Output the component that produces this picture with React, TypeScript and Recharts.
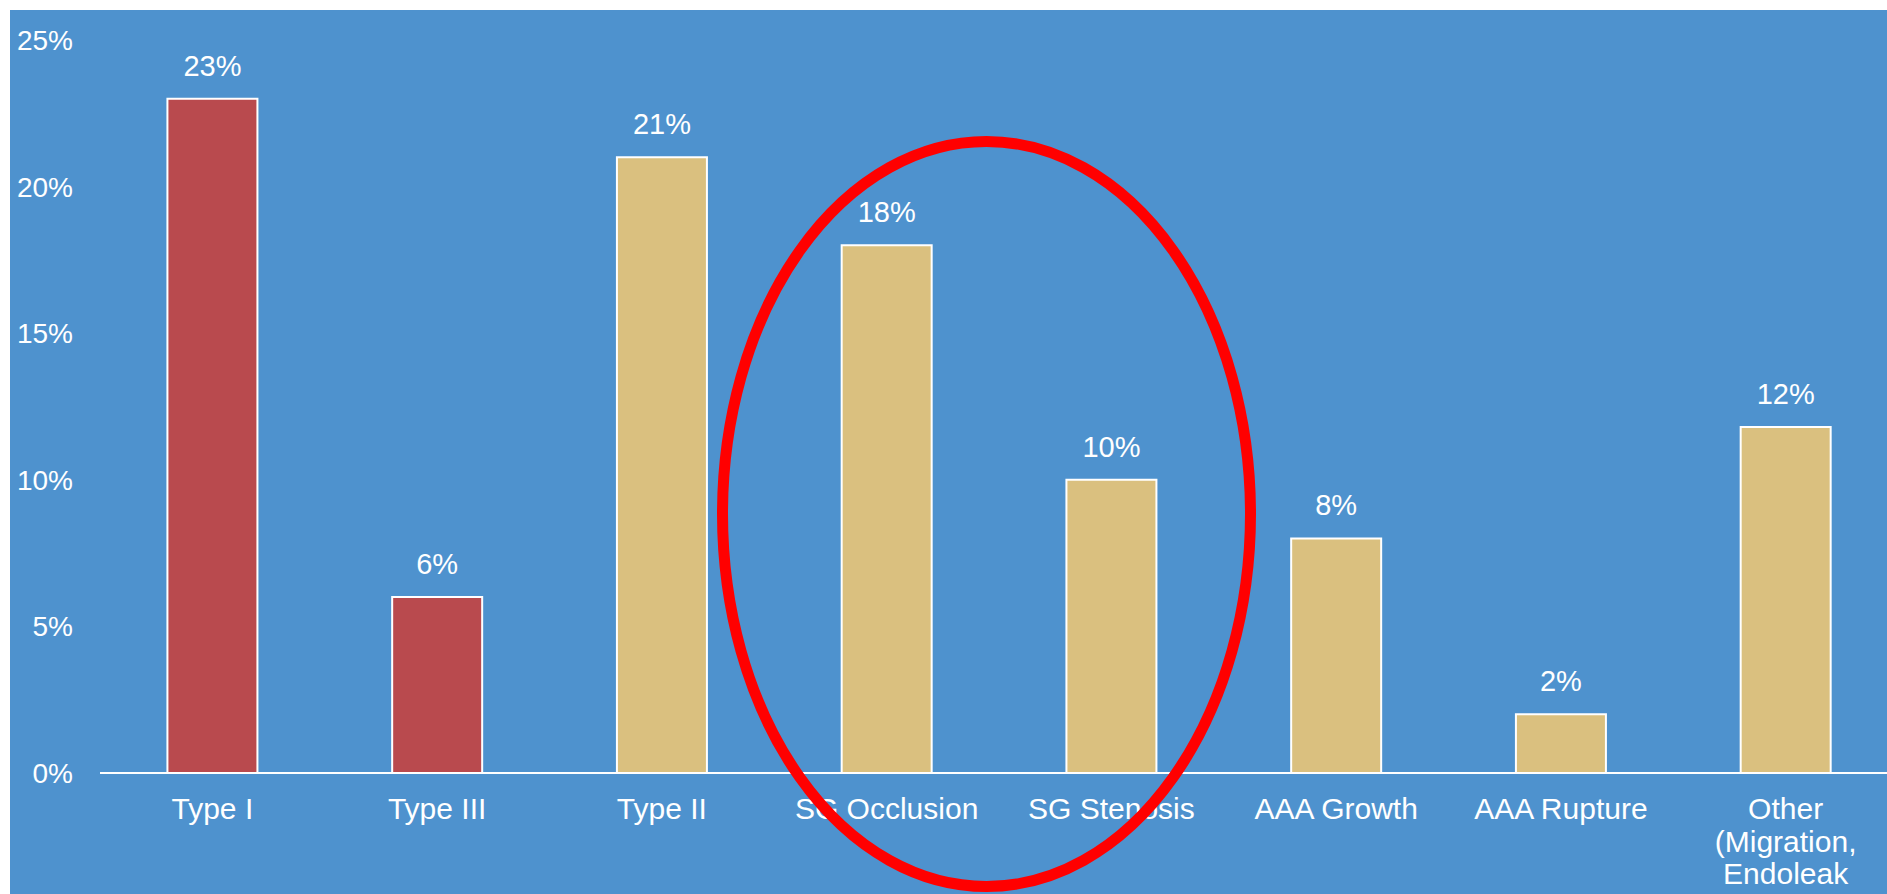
import { BarChart, Bar, XAxis, YAxis, Cell, LabelList } from 'recharts';

const categories = [
  'Type I',
  'Type III',
  'Type II',
  'SG Occlusion',
  'SG Stenosis',
  'AAA Growth',
  'AAA Rupture',
  'Other\n(Migration,\nEndoleak',
];
const values = [23, 6, 21, 18, 10, 8, 2, 11.8];
const barColors = ['#B94A4E', '#B94A4E', '#DAC07F', '#DAC07F', '#DAC07F', '#DAC07F', '#DAC07F', '#DAC07F'];
const yTicks = [0, 5, 10, 15, 20, 25];

const FONT = '"Liberation Sans", Arial, sans-serif';

function CategoryTick({ x, y, payload }: any) {
  const lines = String(payload.value).split('\n');
  return (
    <text x={x} y={y} fill="#FFFFFF" fontSize={30} fontFamily={FONT} textAnchor="middle">
      {lines.map((line, i) => (
        <tspan key={i} x={x} dy={i === 0 ? '0.71em' : 32.5}>
          {line}
        </tspan>
      ))}
    </text>
  );
}

export default function App() {
  const data = categories.map((name, i) => ({ name, value: values[i] }));

  return (
    <div
      style={{
        position: 'absolute',
        left: 0,
        top: 0,
        width: 1887,
        height: 894,
        overflow: 'hidden',
        background: '#FFFFFF',
        fontFamily: FONT,
      }}
    >
      <div style={{ position: 'absolute', left: 10, top: 10, right: 0, bottom: 0, background: '#4E92CE' }} />
      <div style={{ position: 'absolute', left: 0, top: 0 }}>
        <BarChart
          width={1898}
          height={894}
          data={data}
          margin={{ top: 40, right: 0, bottom: 0, left: 0 }}
          barCategoryGap="30%"
        >
          <XAxis
            dataKey="name"
            height={121}
            interval={0}
            axisLine={{ stroke: '#FFFFFF', strokeWidth: 2 }}
            tickLine={false}
            tickSize={6}
            tickMargin={19}
            tick={<CategoryTick />}
          />
          <YAxis
            width={100}
            domain={[0, 25]}
            ticks={yTicks}
            axisLine={false}
            tickLine={false}
            tickSize={6}
            tickMargin={21}
            tickFormatter={(v: number) => `${v}%`}
            tick={{ fill: '#FFFFFF', fontSize: 28, fontFamily: FONT }}
          />
          <Bar dataKey="value" stroke="#FFFFFF" strokeWidth={2} isAnimationActive={false}>
            {data.map((d, i) => (
              <Cell key={d.name} fill={barColors[i]} />
            ))}
            <LabelList
              dataKey="value"
              position="top"
              offset={23}
              formatter={(v: number) => `${Math.round(v)}%`}
              style={{ fill: '#FFFFFF', fontSize: 29, fontFamily: FONT }}
            />
          </Bar>
        </BarChart>
      </div>
      <svg
        width={1887}
        height={894}
        style={{ position: 'absolute', left: 0, top: 0, pointerEvents: 'none' }}
      >
        <ellipse cx={986.5} cy={514} rx={264} ry={372.5} fill="none" stroke="#FF0000" strokeWidth={11} />
      </svg>
    </div>
  );
}
